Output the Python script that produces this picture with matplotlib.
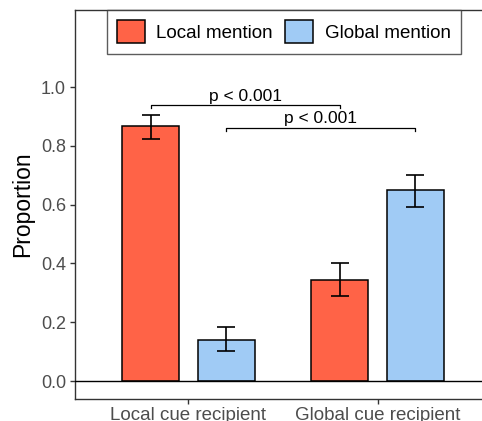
#!/usr/bin/env python3
"""Bar chart of mention proportions by cue recipient, with error bars and p-value brackets."""

import numpy as np
import matplotlib
matplotlib.use("Agg")
import matplotlib.pyplot as plt

plt.rcParams['font.family'] = ['Liberation Sans', 'DejaVu Sans']

# Data
groups = ["Local cue recipient", "Global cue recipient"]
series = ["Local mention", "Global mention"]
colors = ["#FF6347", "#A0CBF5"]

local_mention = [0.867, 0.345]
local_lo = [0.822, 0.290]
local_hi = [0.905, 0.400]

global_mention = [0.138, 0.650]
global_lo = [0.101, 0.593]
global_hi = [0.184, 0.702]

# significance brackets: (series index a, group a), (series index b, group b), height, label
brackets = [
    ((0, 0), (0, 1), 0.940, "p < 0.001"),
    ((1, 0), (1, 1), 0.862, "p < 0.001"),
]

fig = plt.figure(figsize=(4.82, 4.21), dpi=100)
ax = fig.add_axes([75 / 482, 1 - 399 / 421, 416 / 482, 389 / 421])

x = np.arange(1, len(groups) + 1)
offset = 0.2
width = 0.3

def bar_center(s, g):
    return x[g] + (-offset if s == 0 else offset)

vals = [local_mention, global_mention]
los = [local_lo, global_lo]
his = [local_hi, global_hi]

for s in range(2):
    xs = x + (-offset if s == 0 else offset)
    v = np.array(vals[s])
    yerr = [v - np.array(los[s]), np.array(his[s]) - v]
    ax.bar(xs, v, width=width, color=colors[s], edgecolor="black",
           linewidth=1.1, label=series[s], zorder=2)
    ax.errorbar(xs, v, yerr=yerr, fmt="none", ecolor="black",
                elinewidth=1.2, capsize=6.8, capthick=1.2, zorder=3)

ax.axhline(0, color="black", linewidth=1.0, zorder=4)

tip = 0.011
for (sa, ga), (sb, gb), h, lab in brackets:
    xa, xb = bar_center(sa, ga), bar_center(sb, gb)
    ax.plot([xa, xa, xb, xb], [h - tip, h, h, h - tip], color="black",
            linewidth=0.9, zorder=3)
    ax.text((xa + xb) / 2, h + 0.004, lab, ha="center", va="bottom",
            fontsize=12.5, color="black")

ax.set_xlim(0.4, 2.6)
ax.set_ylim(-0.061, 1.262)
ax.set_xticks(x)
ax.set_xticklabels(groups, fontsize=13.5, color="#4D4D4D")
ax.set_yticks([0.0, 0.2, 0.4, 0.6, 0.8, 1.0])
ax.set_yticklabels(["0.0", "0.2", "0.4", "0.6", "0.8", "1.0"],
                   fontsize=13, color="#4D4D4D")
ax.tick_params(axis="both", length=3.3, width=1.0, color="#333333")
ax.tick_params(axis="y", pad=3.2)
ax.tick_params(axis="x", pad=2.5)
ax.set_ylabel("Proportion", fontsize=16.5, labelpad=5)

for sp in ax.spines.values():
    sp.set_color("#333333")
    sp.set_linewidth(1.0)

leg = ax.legend(loc="upper center", bbox_to_anchor=(0.502, 1.0), ncol=2,
                fontsize=13.5, frameon=True, fancybox=False,
                borderaxespad=0, handlelength=1.5, handleheight=1.5,
                handletextpad=0.6, columnspacing=0.65, borderpad=0.55)
leg.get_frame().set_edgecolor("#333333")
leg.get_frame().set_linewidth(1.0)

fig.savefig("out.png", dpi=100)
